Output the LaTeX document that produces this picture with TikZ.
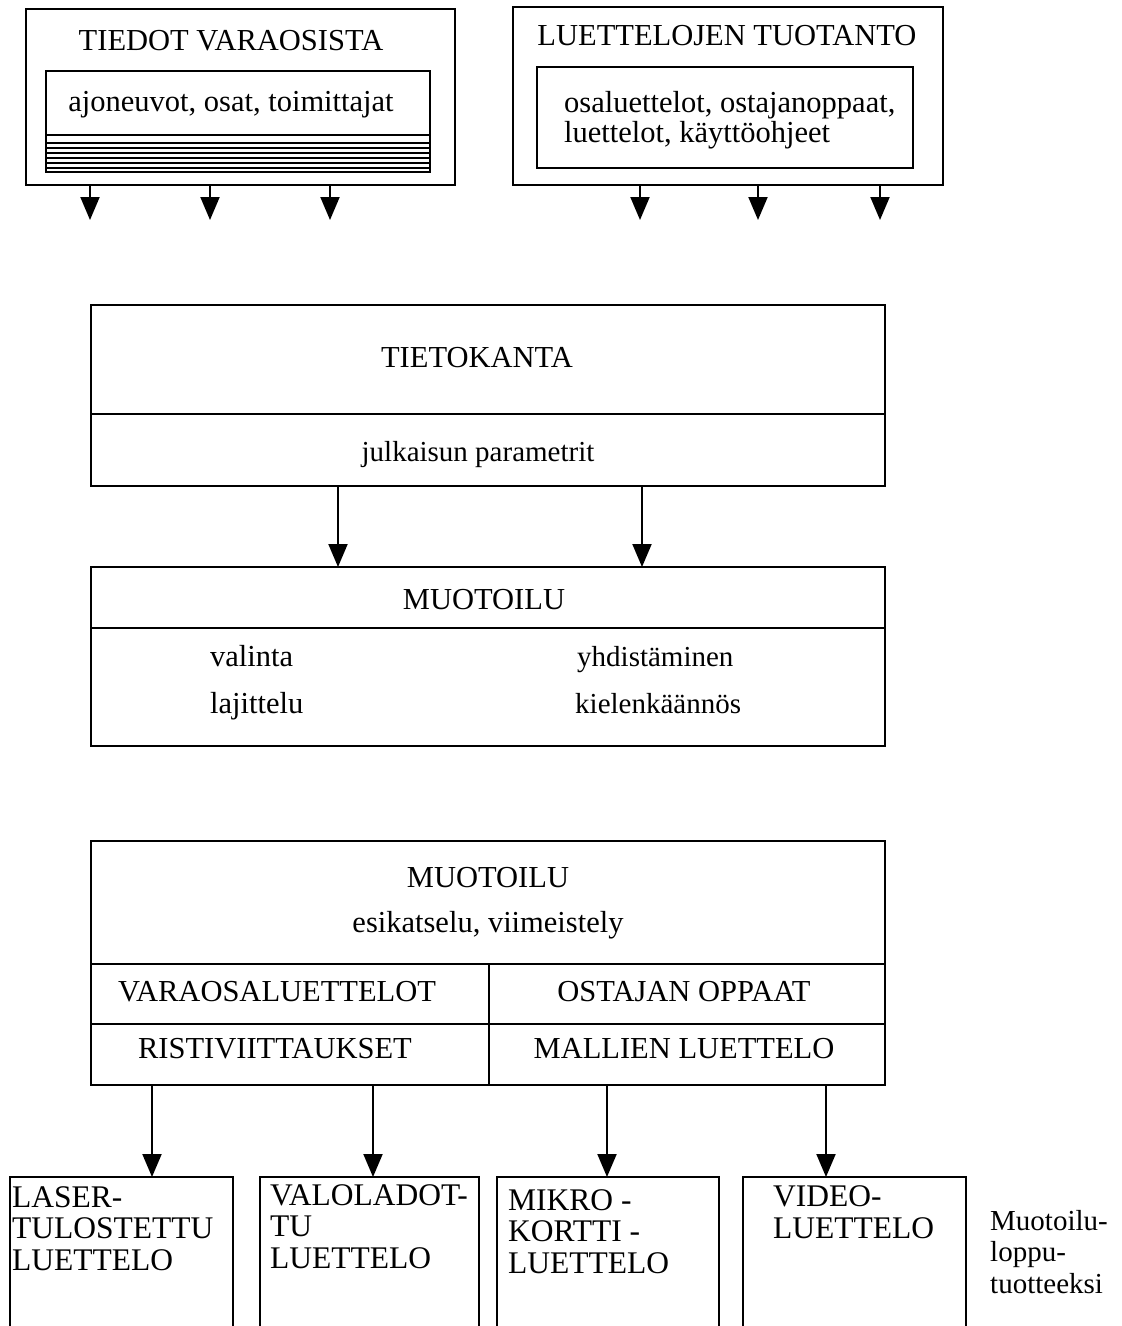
\documentclass[tikz,border=0pt]{standalone}
\usepackage{fontspec}
\setmainfont{Liberation Serif}
\usetikzlibrary{arrows.meta,positioning}

\tikzset{
  frame/.style={draw, line width=2.4pt, inner sep=0pt, outer sep=0pt, anchor=north west},
  inframe/.style={draw, line width=2pt, inner sep=0pt, outer sep=0pt, anchor=north west},
  lbl/.style={inner sep=0pt, anchor=base, font=\fontsize{30.5}{32}\selectfont},
  lbls/.style={lbl, font=\fontsize{29}{31}\selectfont},
  lbll/.style={lbl, anchor=base west},
  % multi-line labels: the base anchor sits on the last line
  stack/.style={inner sep=0pt, anchor=base west, align=left, font=\fontsize{31.5}{31.5}\selectfont},
  arr/.style={line width=2pt, -{Triangle[width=19pt,length=23pt]}},
  rule/.style={line width=2pt},
  hatch/.style={line width=1.3pt}
}

\begin{document}
\begin{tikzpicture}[x=1pt,y=-1pt]
\useasboundingbox (0,0) rectangle (1122,1326);

% --- source: part data ---
\node[frame, minimum width=429pt, minimum height=176pt] (tv) at (26,9) {};
\node[lbl] (tvt) at (231,50) {TIEDOT VARAOSISTA};
\node[inframe, minimum width=384pt, minimum height=101pt] (tvi) at (46,71) {};
\node[lbl] (tvit) at (231,111) {ajoneuvot, osat, toimittajat};
\draw[line width=2.8pt] (tvi.west |- 0,135) -- (tvi.east |- 0,135);
\foreach \yy in {143,148,153,158,163,168}
  \draw[hatch] (tvi.west |- 0,\yy) -- (tvi.east |- 0,\yy);

% --- source: catalogue production ---
\node[frame, minimum width=430pt, minimum height=178pt] (lt) at (513,7) {};
\node[lbl] (ltt) at (727,45) {LUETTELOJEN TUOTANTO};
\node[inframe, minimum width=376pt, minimum height=101pt] (lti) at (537,67) {};
\node[lbll] (lti1) at (564,112) {osaluettelot, ostajanoppaat,};
\node[lbll] (lti2) at (564,142) {luettelot, käyttöohjeet};

% free arrow ends below the source boxes
\coordinate (s1) at (90,220);
\coordinate (s2) at (210,220);
\coordinate (s3) at (330,220);
\coordinate (s4) at (640,220);
\coordinate (s5) at (758,220);
\coordinate (s6) at (880,220);
\foreach \c in {s1,s2,s3} \draw[arr] (\c |- tv.south) -- (\c);
\foreach \c in {s4,s5,s6} \draw[arr] (\c |- lt.south) -- (\c);

% --- database ---
\node[frame, minimum width=794pt, minimum height=181pt] (tk) at (91,305) {};
\draw[rule] (tk.west |- 0,414) -- (tk.east |- 0,414);
\node[lbl] (tkt) at (477,367) {TIETOKANTA};
\node[lbls] (tkp) at (478,461) {julkaisun parametrit};

% --- formatting ---
\node[frame, minimum width=794pt, minimum height=179pt] (mu) at (91,567) {};
\draw[rule] (mu.west |- 0,628) -- (mu.east |- 0,628);
\node[lbl] (mut) at (484,609) {MUOTOILU};
\node[lbll] (mu1) at (210,666) {valinta};
\node[lbll] (mu2) at (210,713) {lajittelu};
\node[lbls, anchor=base west] (mu3) at (577,666) {yhdistäminen};
\node[lbls, anchor=base west] (mu4) at (575,713) {kielenkäännös};

\coordinate (m1) at (338,0);
\coordinate (m2) at (642,0);
\draw[arr] (m1 |- tk.south) -- (m1 |- mu.north);
\draw[arr] (m2 |- tk.south) -- (m2 |- mu.north);

% --- formatting, preview and finishing ---
\node[frame, minimum width=794pt, minimum height=244pt] (mv) at (91,841) {};
\draw[rule] (mv.west |- 0,964) -- (mv.east |- 0,964);
\draw[rule] (mv.west |- 0,1024) -- (mv.east |- 0,1024);
\draw[rule] (489,964) -- (489,0 |- mv.south);
\node[lbl] (mvt) at (488,887) {MUOTOILU};
\node[lbl] (mvs) at (488,932) {esikatselu, viimeistely};
\node[lbl] (mva) at (277,1001) {VARAOSALUETTELOT};
\node[lbl] (mvb) at (684,1001) {OSTAJAN OPPAAT};
\node[lbl] (mvc) at (275,1058) {RISTIVIITTAUKSET};
\node[lbl] (mvd) at (684,1058) {MALLIEN LUETTELO};

% --- end products ---
\node[frame, minimum width=223pt, minimum height=180pt] (p1) at (10,1177) {};
\node[frame, minimum width=219pt, minimum height=180pt] (p2) at (260,1177) {};
\node[frame, minimum width=222pt, minimum height=180pt] (p3) at (497,1177) {};
\node[frame, minimum width=223pt, minimum height=180pt] (p4) at (743,1177) {};
\node[stack] (p1t) at (12,1270) {LASER-\\TULOSTETTU\\LUETTELO};
\node[stack] (p2t) at (270,1268) {VALOLADOT-\\TU\\LUETTELO};
\node[stack] (p3t) at (508,1273) {MIKRO -\\KORTTI -\\LUETTELO};
\node[stack] (p4t) at (773,1238) {VIDEO-\\LUETTELO};
\node[stack, font=\fontsize{29}{31.5}\selectfont] (note) at (990,1293) {Muotoilu-\\loppu-\\tuotteeksi};

\foreach \x/\p in {152/p1,373/p2,607/p3,826/p4}
  \draw[arr] (\x,0 |- mv.south) -- (\p.north -| \x,0);
\end{tikzpicture}
\end{document}
